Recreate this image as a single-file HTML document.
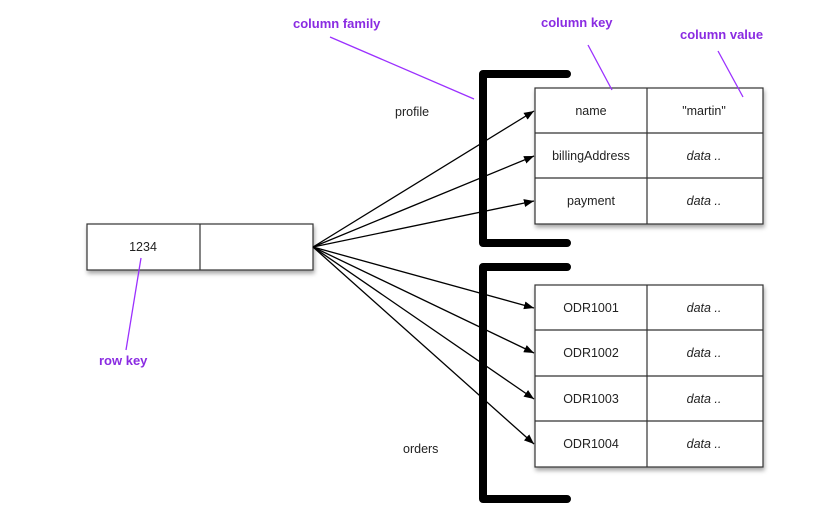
<!DOCTYPE html>
<html><head><style>
body{margin:0;background:#fff;}
svg{display:block}
text{font-family:"Liberation Sans",sans-serif;font-size:12.5px;fill:#222}
.p{fill:#8a2be2;font-weight:bold;font-size:13px;font-family:"Liberation Sans Narrow","Liberation Sans",sans-serif}
.i{font-style:italic}
</style></head><body>
<svg width="817" height="518" viewBox="0 0 817 518">
<defs>
<marker id="a" markerWidth="10" markerHeight="8" refX="10" refY="4" orient="auto" markerUnits="userSpaceOnUse"><path d="M0,0 L10,4 L0,8 z" fill="#000"/></marker>
<filter id="s" x="-5%" y="-5%" width="115%" height="125%"><feDropShadow dx="1" dy="3" stdDeviation="2" flood-opacity="0.35"/></filter>
</defs>
<rect x="87" y="224" width="226" height="46" fill="#fff" stroke="#333" stroke-width="1.2" filter="url(#s)"/>
<line x1="200" y1="224" x2="200" y2="270" stroke="#333" stroke-width="1.2"/>
<text x="143" y="251" text-anchor="middle">1234</text>
<path d="M567,74 H483 V243 H567" fill="none" stroke="#000" stroke-width="8" stroke-linejoin="round" stroke-linecap="round"/>
<path d="M567,267 H483 V499 H567" fill="none" stroke="#000" stroke-width="8" stroke-linejoin="round" stroke-linecap="round"/>
<g filter="url(#s)">
<rect x="535" y="88" width="228" height="136" fill="#fff" stroke="#333" stroke-width="1.2"/>
<rect x="535" y="285" width="228" height="182" fill="#fff" stroke="#333" stroke-width="1.2"/>
</g>
<g stroke="#333" stroke-width="1.2">
<line x1="647" y1="88" x2="647" y2="224"/><line x1="535" y1="133" x2="763" y2="133"/><line x1="535" y1="178" x2="763" y2="178"/>
<line x1="647" y1="285" x2="647" y2="467"/><line x1="535" y1="330" x2="763" y2="330"/><line x1="535" y1="376" x2="763" y2="376"/><line x1="535" y1="421" x2="763" y2="421"/>
</g>
<g text-anchor="middle">
<text x="591" y="115">name</text><text x="704" y="115">"martin"</text>
<text x="591" y="160">billingAddress</text><text x="704" y="160" class="i">data ..</text>
<text x="591" y="205">payment</text><text x="704" y="205" class="i">data ..</text>
<text x="591" y="312">ODR1001</text><text x="704" y="312" class="i">data ..</text>
<text x="591" y="357">ODR1002</text><text x="704" y="357" class="i">data ..</text>
<text x="591" y="403">ODR1003</text><text x="704" y="403" class="i">data ..</text>
<text x="591" y="448">ODR1004</text><text x="704" y="448" class="i">data ..</text>
</g>
<text x="395" y="116">profile</text>
<text x="403" y="453">orders</text>
<g stroke="#000" stroke-width="1.3" marker-end="url(#a)">
<line x1="313" y1="247" x2="534" y2="111"/>
<line x1="313" y1="247" x2="534" y2="156"/>
<line x1="313" y1="247" x2="534" y2="201"/>
<line x1="313" y1="247" x2="534" y2="308"/>
<line x1="313" y1="247" x2="534" y2="353"/>
<line x1="313" y1="247" x2="534" y2="399"/>
<line x1="313" y1="247" x2="534" y2="444"/>
</g>
<g stroke="#9b30ff" stroke-width="1.3" fill="none">
<line x1="330" y1="37" x2="474" y2="99"/>
<line x1="588" y1="45" x2="612" y2="90"/>
<line x1="718" y1="51" x2="743" y2="97"/>
<line x1="141" y1="258" x2="126" y2="350"/>
</g>
<text class="p" x="293" y="28">column family</text>
<text class="p" x="541" y="27">column key</text>
<text class="p" x="680" y="39">column value</text>
<text class="p" x="99" y="365">row key</text>
</svg>
</body></html>
